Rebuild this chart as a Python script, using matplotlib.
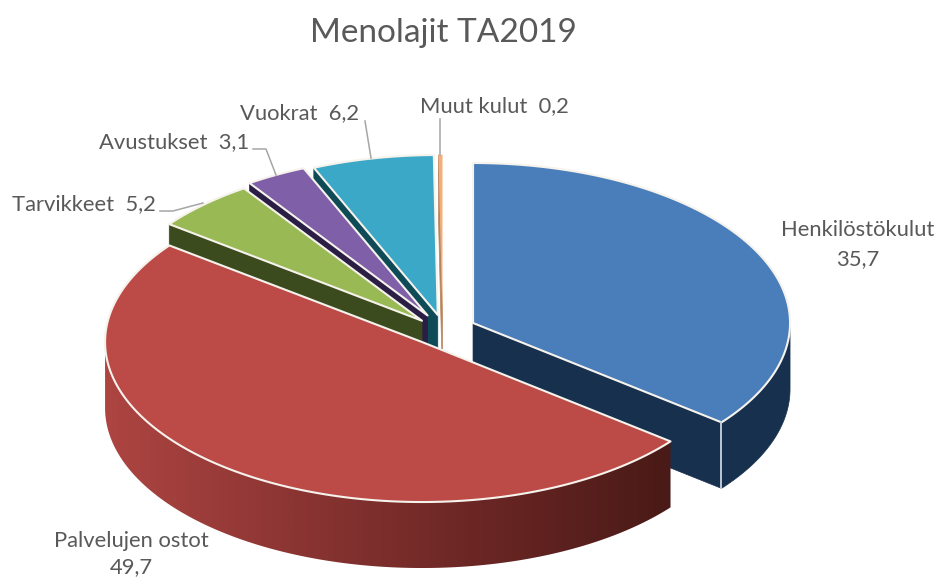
import numpy as np
import matplotlib
matplotlib.use("Agg")
import matplotlib.pyplot as plt
from matplotlib.colors import to_rgb, LinearSegmentedColormap
from matplotlib.patches import Polygon

names = ["Henkilöstökulut", "Palvelujen ostot", "Tarvikkeet", "Avustukset", "Vuokrat", "Muut kulut"]
values = [35.7, 49.7, 5.2, 3.1, 6.2, 0.2]
top_colors = ["#4A7EBB", "#BC4A47", "#98B954", "#7F5FA7", "#3AA8C6", "#F4AE78"]
side_colors = ["#17304D", "#8B3533", "#3B4B1E", "#2A1E45", "#0F4A57", "#B8835A"]

plt.rcParams["font.family"] = ["Lato", "DejaVu Sans"]

# pie geometry, in pixels of the 937x580 picture
cx, cy = 442.7, 329.4
rx, ry = 317.0, 160.0
ex, ey = 33.7, 14.7
depth = 66.0
nudge = [(0, 0), (0, 1), (2.5, 2), (1, -1), (2, 0), (0, 0)]
text_color = "#595959"
line_color = "#A6A6A6"
edge_color = "#F6F2EC"
label_size = 15.8

fig = plt.figure(figsize=(9.37, 5.8), dpi=100)
ax = fig.add_axes([0, 0, 1, 1])

fractions = np.array(values) / sum(values)
edges = np.concatenate([[0], np.cumsum(fractions)]) * 2 * np.pi

red_cmap = LinearSegmentedColormap.from_list(
    "redwall", [to_rgb(c) for c in ["#AD4542", "#8B3533", "#6A2624", "#491A17"]])


def rim(x0, y0, theta):
    return x0 + rx * np.sin(theta), y0 - ry * np.cos(theta)


def draw_slice(i, z):
    t0, t1 = edges[i], edges[i + 1]
    mid = (t0 + t1) / 2
    x0 = cx + ex * np.sin(mid) + nudge[i][0]
    y0 = cy - ey * np.cos(mid) + nudge[i][1]

    # cut face: start side for the slices at the back, end side for the blue one
    if i >= 2 or i == 0:
        xs, ys = rim(x0, y0, t1 if i == 0 else t0)
        ax.fill([x0, xs, xs, x0], [y0, ys, ys + depth, y0 + depth],
                color=side_colors[i], lw=0.5, zorder=z)

    # outer wall, front half only
    a = max(t0, np.pi / 2)
    b = min(t1, 3 * np.pi / 2)
    if a < b:
        th = np.linspace(a, b, 200)
        xr, yr = rim(x0, y0, th)
        wx = np.r_[xr, xr[::-1]]
        wy = np.r_[yr, yr[::-1] + depth]
        if i == 1:
            # red wall gets darker to the right
            grad = np.linspace(0, 1, 256).reshape(1, -1)
            im = ax.imshow(grad, cmap=red_cmap, vmin=0, vmax=1, aspect="auto",
                           extent=(wx.min(), wx.max(), wy.max(), wy.min()), zorder=z)
            im.set_clip_path(Polygon(np.c_[wx, wy], closed=True, transform=ax.transData))
        else:
            ax.fill(wx, wy, color=side_colors[i], lw=0.5, zorder=z)

    # top face
    th = np.linspace(t0, t1, 200)
    xr, yr = rim(x0, y0, th)
    lw = 0 if i == 5 else 1.5
    ax.fill(np.r_[x0, xr], np.r_[y0, yr], facecolor=top_colors[i],
            edgecolor=edge_color if lw else top_colors[i], lw=lw, joinstyle="round",
            zorder=z + 0.5)

    if i == 0:
        xs, ys = rim(x0, y0, t1)
        ax.plot([xs, xs], [ys, ys + depth], color="#C9D3DF", lw=1.3, zorder=z + 0.6)


# back to front
for z, i in enumerate([5, 4, 3, 2, 0, 1]):
    draw_slice(i, z + 1)

# leader lines
leaders = {
    2: ([160, 173, 203], [211, 211, 203]),
    3: ([253, 266, 276], [149, 149, 175]),
    4: ([365, 371], [121, 158]),
    5: ([440, 440], [119, 155]),
}
for k, (lx, ly) in leaders.items():
    ax.plot(lx, ly, color=line_color, lw=1.1, zorder=10)

ax.set_xlim(0, 937)
ax.set_ylim(580, 0)
ax.axis("off")


def fmt(v):
    return str(v).replace(".", ",")


ax.text(443, 33, "Menolajit TA2019", fontsize=24, color=text_color, ha="center", va="center")

ax.text(858, 230, names[0], fontsize=label_size, color=text_color, ha="center", va="center")
ax.text(858, 259, fmt(values[0]), fontsize=label_size, color=text_color, ha="center", va="center")
ax.text(131, 541, names[1], fontsize=label_size, color=text_color, ha="center", va="center")
ax.text(131, 567, fmt(values[1]), fontsize=label_size, color=text_color, ha="center", va="center")
ax.text(84, 204, f"{names[2]}  {fmt(values[2])}", fontsize=label_size, color=text_color, ha="center", va="center")
ax.text(174, 142, f"{names[3]}  {fmt(values[3])}", fontsize=label_size, color=text_color, ha="center", va="center")
ax.text(300, 113, f"{names[4]}  {fmt(values[4])}", fontsize=label_size, color=text_color, ha="center", va="center")
ax.text(494, 106, f"{names[5]}  {fmt(values[5])}", fontsize=label_size, color=text_color, ha="center", va="center")

fig.savefig("out.png", dpi=100)
